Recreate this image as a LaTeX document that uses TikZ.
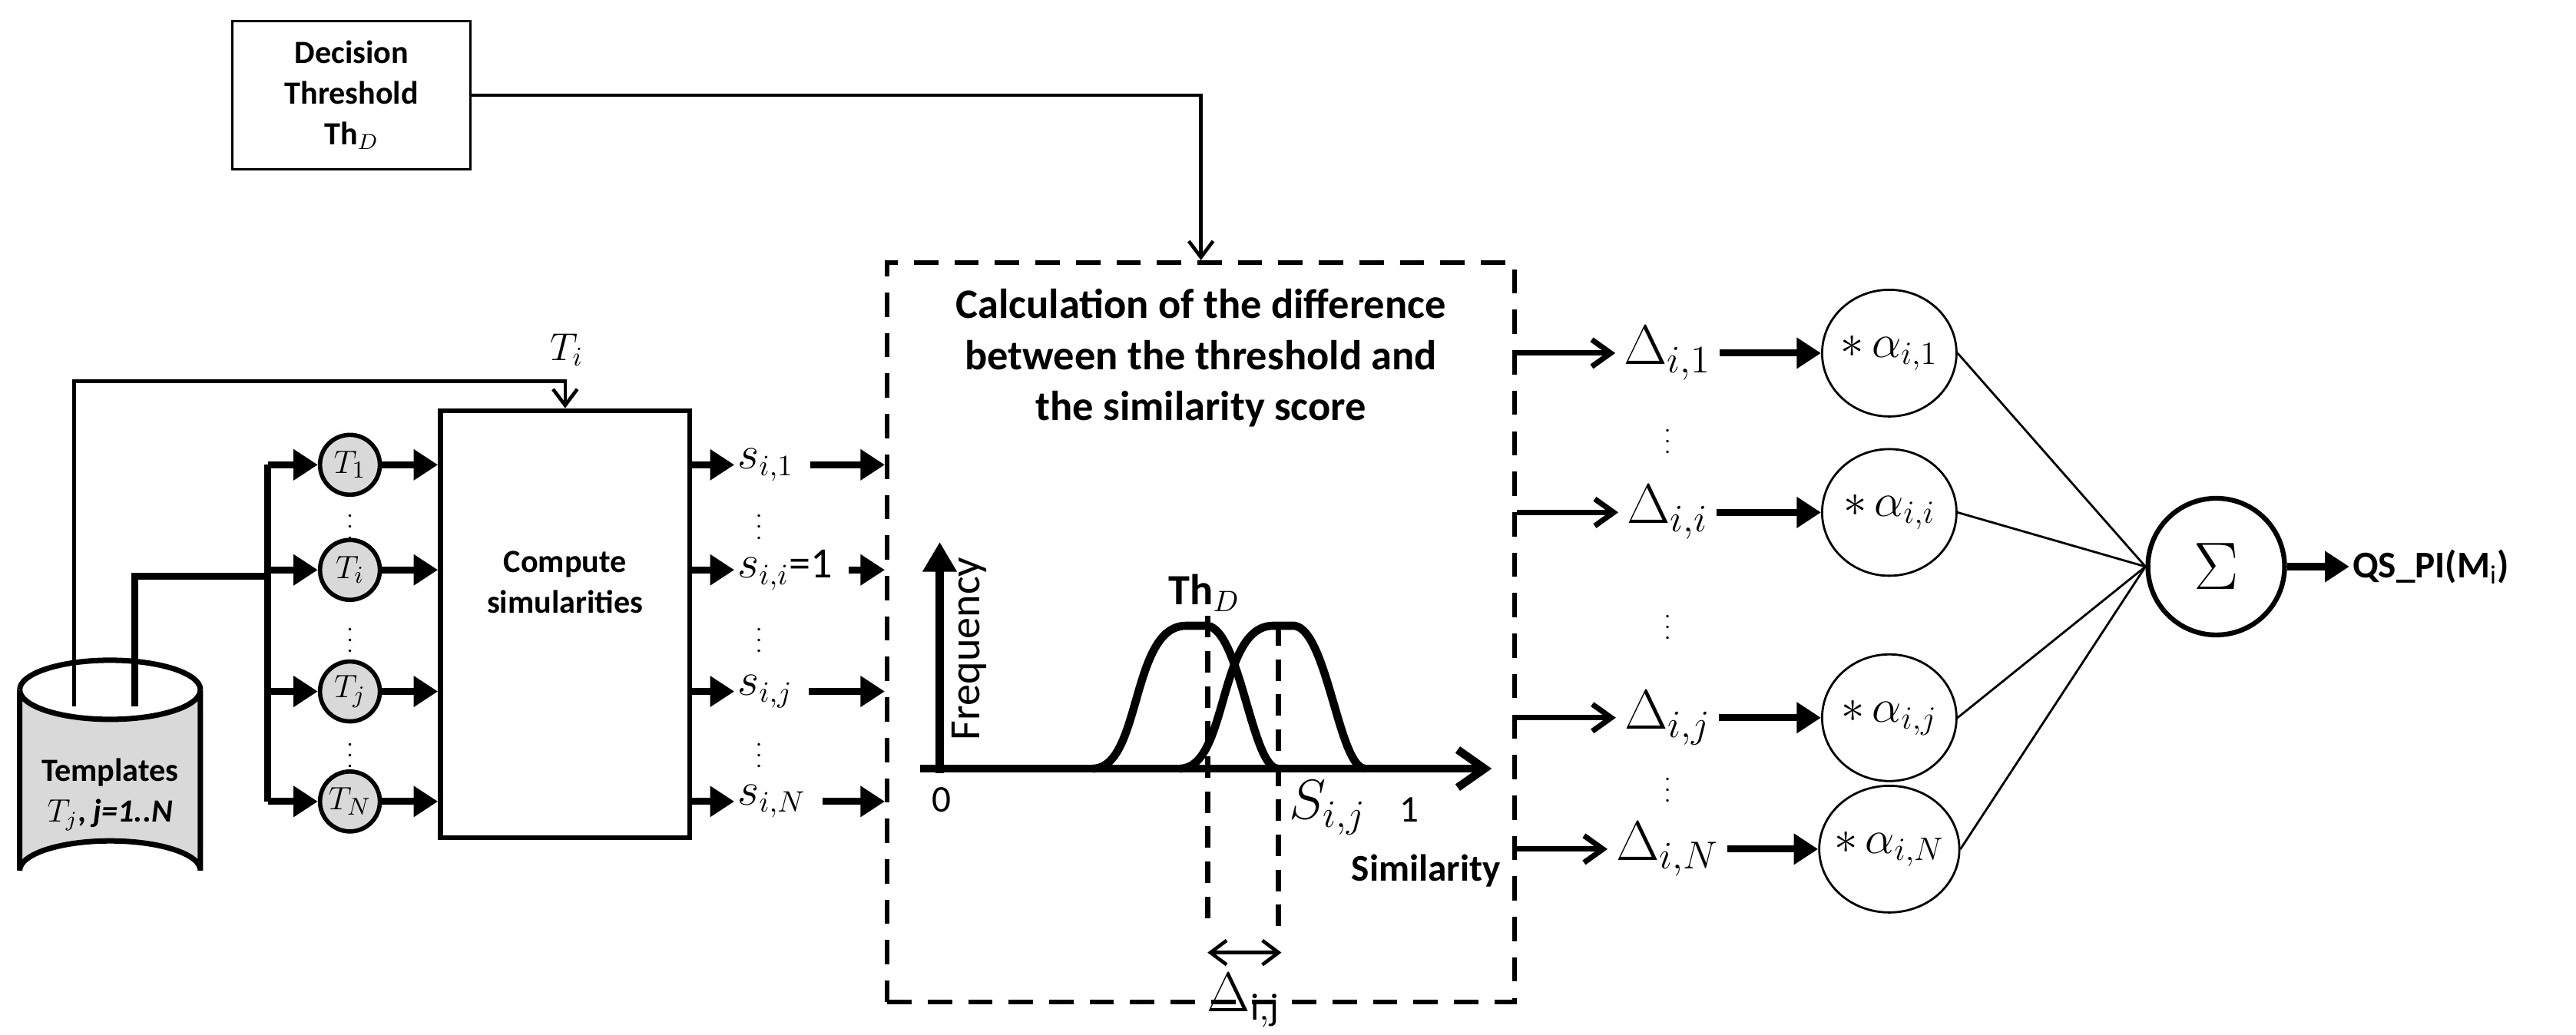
\documentclass[tikz,border=0pt]{standalone}
\usepackage{fontspec}
\setmainfont{Carlito}
\usepackage{amsmath}
\usetikzlibrary{arrows.meta,shapes.geometric}

\tikzset{
    fat/.style={line width=2.6pt},
    slim/.style={line width=1.3pt},
    fatarrow/.style={fat,-{Triangle[length=9pt,width=11pt]}},
    tmpl/.style={circle,draw,line width=1.6pt,fill=gray!30,minimum size=0.78cm,inner sep=0pt,font=\fontsize{13}{14}\selectfont},
    weight/.style={ellipse,draw,line width=0.8pt,minimum width=1.75cm,minimum height=1.65cm,inner sep=-2pt,font=\fontsize{17}{18}\selectfont},
    lbl/.style={font=\fontsize{14}{16}\selectfont},
    big/.style={font=\fontsize{20}{22}\selectfont},
    dots/.style={inner sep=0pt,font=\fontsize{8}{8}\selectfont},
}

\begin{document}
\begin{tikzpicture}[x=0.02139cm,y=-0.02139cm]
    \useasboundingbox (0,0) rectangle (1568,630);

    % threshold box
    \node[draw,line width=0.8pt,minimum width=3.1cm,minimum height=1.93cm,align=center,
          font=\bfseries\fontsize{12}{15}\selectfont] (dec) at (214,58)
        {Decision\\Threshold\\$\mathbf{Th}_{D}$};

    % template database
    \draw[line width=2pt,fill=gray!30] (12,420) -- (12,530) arc[start angle=180,end angle=360,x radius=55,y radius=18]
        -- (122,420) arc[start angle=0,end angle=180,x radius=55,y radius=18];
    \draw[line width=2pt] (12,420) arc[start angle=180,end angle=360,x radius=55,y radius=18];
    \node[align=center,font=\bfseries\fontsize{12}{15}\selectfont] (tpl) at (67,484) {Templates\\$T_j$, \textit{j=1..N}};
    \coordinate (p1) at (45,430);
    \coordinate (p2) at (82,430);

    % similarity box
    \node[draw,line width=1.8pt,minimum width=3.25cm,minimum height=5.56cm,
          align=center,font=\bfseries\fontsize{12}{15}\selectfont,text depth=1.1cm] (cs) at (344,380) {Compute\\simularities};

    \draw[slim,-{Straight Barb[length=6pt,width=9pt]}] (p1) |- (cs.north |- 0,232) -- (cs.north);
    \node[lbl] (ti) at (345,213) {$T_i$};
    \draw[fat] (p2) |- (163,351);
    \draw[fat] (163,283) -- (163,488);

    \foreach \n/\t/\y in {t1/1/283, ti/i/347, tj/j/421, tN/N/488} {
        \node[tmpl] (\n) at (213,\y) {$T_{\t}$};
        \draw[fatarrow] (163,\y) -- (\n.west);
        \draw[fatarrow] (\n.east) -- (cs.west |- \n);
    }
    \foreach \y in {316,385,455}
        \node[dots] (dt\y) at (213,\y) {$\vdots$};

    % dashed calculation box
    \node[draw,line width=1.8pt,dash pattern=on 9pt off 6pt,minimum width=8.17cm,minimum height=9.63cm] (calc) at (731,385) {};
    \draw[slim,-{Straight Barb[length=6pt,width=9pt]}] (dec.east) -| (calc.north);
    \node[align=center,font=\bfseries\fontsize{15.5}{19}\selectfont] (title) at (731,218)
        {Calculation of the difference\\between the threshold and\\the similarity score};

    % similarity scores
    \foreach \n/\t/\y in {s1/{s_{i,1}}/283, si/{s_{i,i}\text{=1}}/347, sj/{s_{i,j}}/421, sN/{s_{i,N}}/488} {
        \node[font=\fontsize{16}{18}\selectfont,anchor=west,inner sep=1pt] (\n) at (447,\y) {$\t$};
        \draw[fatarrow] (cs.east |- \n) -- (\n.west);
        \draw[fatarrow] (\n.east) ++(8,0) -- (calc.west |- \n);
    }
    \foreach \y in {316,385,455}
        \node[dots] (ds\y) at (462,\y) {$\vdots$};

    % distribution plot
    \draw[line width=3pt,-{Triangle[length=11pt,width=12pt]}] (572,471) -- (572,330);
    \draw[line width=3pt,-{Straight Barb[length=10pt,width=14pt]}] (560,468) -- (908,468);
    \node[rotate=90,font=\fontsize{16}{18}\selectfont] (freq) at (590,395) {Frequency};
    \node[lbl] (zero) at (573,487) {0};
    \node[lbl] (one) at (858,493) {1};
    \node[font=\bfseries\fontsize{14}{16}\selectfont] (sim) at (868,530) {Similarity};
    \node[big] (sij) at (808,492) {$S_{i,j}$};
    \node[font=\fontsize{16}{18}\selectfont] (thd) at (733,361) {$\mathbf{Th}_{D}$};
    \draw[line width=3pt] (665,468) .. controls (695,468) and (688,381) .. (722,381) -- (735,381)
        .. controls (755,384) and (762,468) .. (778,468);
    \draw[line width=3pt] (718,468) .. controls (748,468) and (741,381) .. (775,381) -- (788,381)
        .. controls (808,384) and (815,468) .. (831,468);
    \draw[line width=2pt,dash pattern=on 8pt off 5pt] (735,375) -- (735,560);
    \draw[line width=2pt,dash pattern=on 8pt off 5pt] (778,380) -- (778,565);
    \coordinate (dl) at (735,580);
    \coordinate (dr) at (780,580);
    \draw[slim,{Straight Barb[length=6pt,width=9pt]}-{Straight Barb[length=6pt,width=9pt]}] (dl) -- (dr);
    \node[big,inner sep=0pt] (dij) at (757,609) {$\Delta_{\mathrm{i,j}}$};

    % weighting and sum
    \node[circle,draw,line width=1.8pt,minimum width=1.78cm,inner sep=0pt,font=\fontsize{28}{30}\selectfont] (sum) at (1349,345) {$\Sigma$};
    \node[anchor=west,font=\bfseries\fontsize{14}{16}\selectfont,inner sep=1pt] (qs) at (1430,345) {QS\_PI($\mathbf{M}_{\mathrm{i}}$)};
    \draw[fatarrow] (sum.east) -- (qs.west);
    \foreach \n/\t/\y in {1/1/215, i/i/312, j/j/437, N/N/517} {
        \node[big,inner sep=0pt] (d\n) at (1015,\y) {$\Delta_{i,\t}$};
        \node[weight] (a\n) at (1150,\y) {$*\,\alpha_{i,\t}$};
        \draw[line width=2pt,-{Straight Barb[length=7pt,width=10pt]}] (calc.east |- d\n) -- ([xshift=-3pt]d\n.west);
        \draw[fatarrow] ([xshift=3pt]d\n.east) -- (a\n.west);
        \draw[line width=0.8pt] (a\n.east) -- (sum.west);
    }
    \foreach \y in {264,377,476}
        \node[dots] (da\y) at (1015,\y) {$\vdots$};
\end{tikzpicture}
\end{document}
